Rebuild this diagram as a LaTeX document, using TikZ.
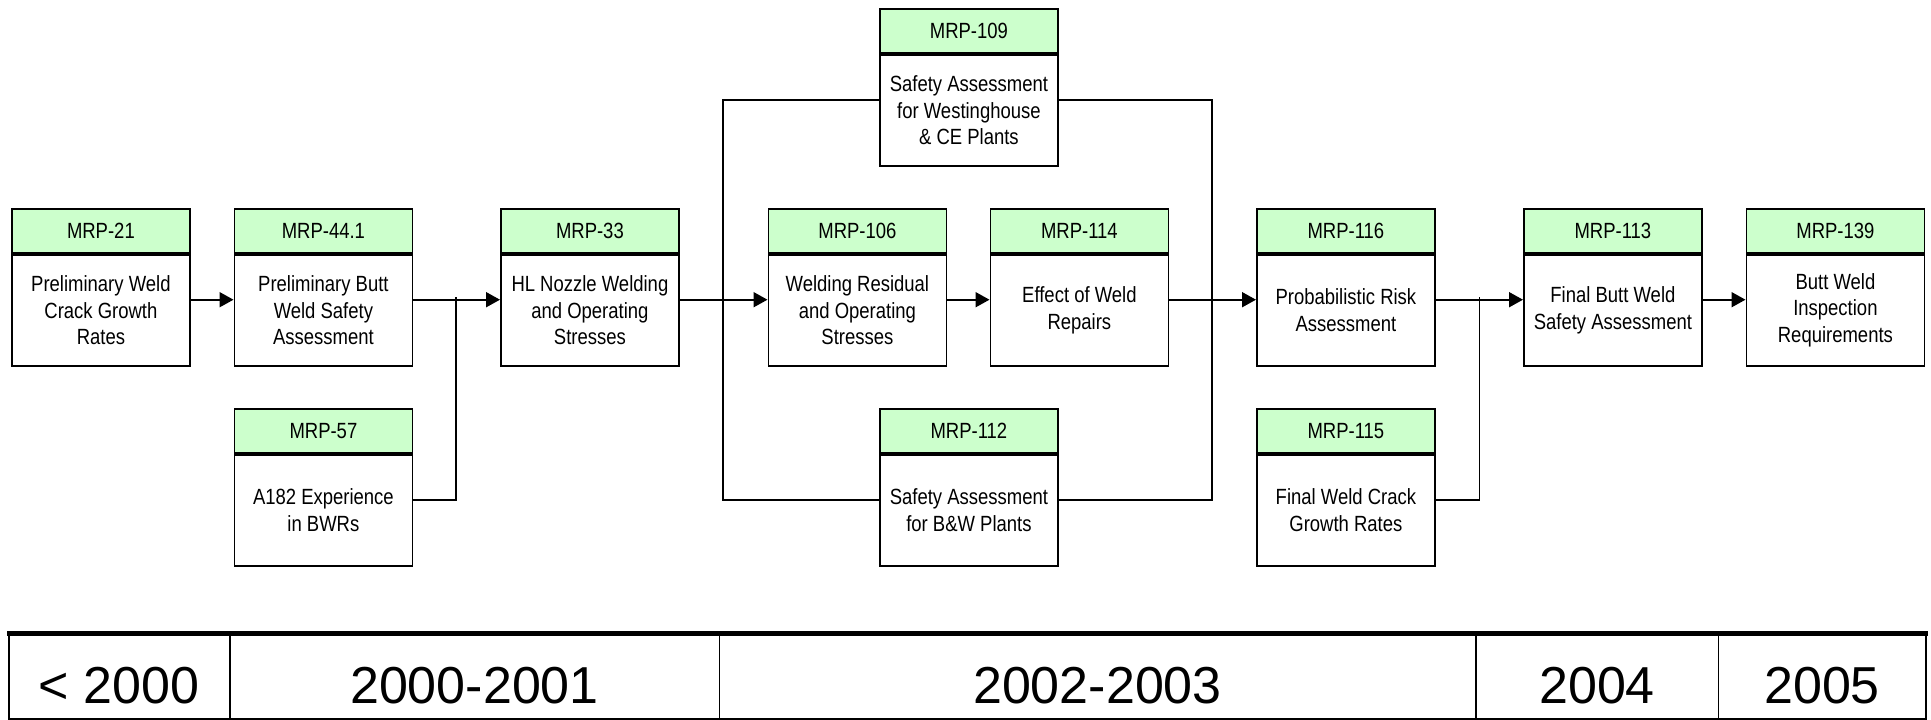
\documentclass[tikz,border=0pt]{standalone}
\usepackage{fontspec}
\setmainfont{Liberation Sans}[FakeStretch=0.84]
\newfontfamily\yearfont{Liberation Sans}
\usetikzlibrary{arrows.meta,calc}
\definecolor{hdrgreen}{HTML}{CCFFCC}
\newcommand\mrpbox[5]{%
  \node[hdr, anchor=north west] (#1h) at (#2,-#3) {#4};
  \node[bdy, anchor=north] (#1) at (#1h.south) {#5};}
\begin{document}
\begin{tikzpicture}[x=1pt,y=1pt,
  hdr/.style={draw, line width=1.8pt, fill=hdrgreen, minimum width=178pt, minimum height=44pt, inner sep=0pt, font=\fontsize{22}{26.5}\selectfont},
  bdy/.style={draw, line width=1.8pt, fill=white, minimum width=178pt, minimum height=111pt, inner sep=0pt, align=center, font=\fontsize{22}{26.5}\selectfont},
  conn/.style={line width=1.8pt},
  arr/.style={conn, -{Triangle[length=14pt,width=15pt]}},
  yearcell/.style={font=\yearfont\fontsize{52}{60}\selectfont, inner sep=0pt, anchor=center}]
\useasboundingbox (0,0) rectangle (1931,-720);

\mrpbox{m21}{11}{208}{MRP-21}{Preliminary Weld\\Crack Growth\\Rates}
\mrpbox{m441}{233.5}{208}{MRP-44.1}{Preliminary Butt\\Weld Safety\\Assessment}
\mrpbox{m57}{233.5}{408}{MRP-57}{A182 Experience\\in BWRs}
\mrpbox{m33}{500}{208}{MRP-33}{HL Nozzle Welding\\and Operating\\Stresses}
\mrpbox{m109}{879}{8}{MRP-109}{Safety Assessment\\for Westinghouse\\\& CE Plants}
\mrpbox{m106}{767.5}{208}{MRP-106}{Welding Residual\\and Operating\\Stresses}
\mrpbox{m114}{989.5}{208}{MRP-114}{Effect of Weld\\Repairs}
\mrpbox{m112}{879}{408}{MRP-112}{Safety Assessment\\for B\&W Plants}
\mrpbox{m116}{1256}{208}{MRP-116}{Probabilistic Risk\\Assessment}
\mrpbox{m115}{1256}{408}{MRP-115}{Final Weld Crack\\Growth Rates}
\mrpbox{m113}{1523}{208}{MRP-113}{Final Butt Weld\\Safety Assessment}
\mrpbox{m139}{1745.5}{208}{MRP-139}{Butt Weld\\Inspection\\Requirements}

\coordinate (j1) at (456,-297);
\coordinate (jl) at (723,-297);
\coordinate (jr) at (1212,-297);
\coordinate (j2) at (1479.5,-297);

\draw[arr] ([yshift=10.5pt]m21.east) -- ([yshift=10.5pt]m441.west);
\draw[arr] ([yshift=10.5pt]m441.east) -- ([yshift=10.5pt]m33.west);
\draw[conn] ([yshift=10.5pt]m57.east) -| (j1);
\draw[arr] ([yshift=10.5pt]m33.east) -- ([yshift=10.5pt]m106.west);
\draw[conn] ([yshift=10.5pt]m109.west) -| (jl) |- ([yshift=10.5pt]m112.west);
\draw[arr] ([yshift=10.5pt]m106.east) -- ([yshift=10.5pt]m114.west);
\draw[conn] ([yshift=10.5pt]m109.east) -| (jr) |- ([yshift=10.5pt]m112.east);
\draw[arr] ([yshift=10.5pt]m114.east) -- ([yshift=10.5pt]m116.west);
\draw[arr] ([yshift=10.5pt]m116.east) -- ([yshift=10.5pt]m113.west);
\draw[conn] ([yshift=10.5pt]m115.east) -| (j2);
\draw[arr] ([yshift=10.5pt]m113.east) -- ([yshift=10.5pt]m139.west);

% timeline
\draw[line width=1.8pt] (8.6,-634) rectangle (1926,-719);
\foreach \xx in {229.6,719.5,1475.6,1718.5} \draw[line width=1.8pt] (\xx,-634) -- (\xx,-719);
\draw[line width=5pt] (7,-633) -- (1927.5,-633);
\node[yearcell] (y1) at (119,-686) {< 2000};
\node[yearcell] (y2) at (474.5,-686) {2000-2001};
\node[yearcell] (y3) at (1097.5,-686) {2002-2003};
\node[yearcell] (y4) at (1597,-686) {2004};
\node[yearcell] (y5) at (1822,-686) {2005};
\end{tikzpicture}
\end{document}
